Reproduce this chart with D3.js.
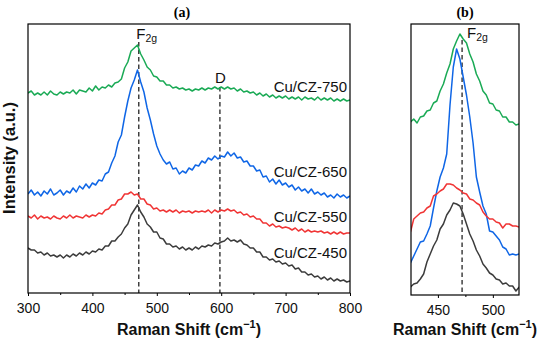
<!DOCTYPE html>
<html><head><meta charset="utf-8">
<script src="https://cdn.jsdelivr.net/npm/d3@7"></script>
<style>body{margin:0;background:#fff}svg{display:block}</style>
</head><body>
<svg id="c" width="550" height="344"></svg>
<script>
// ---------- DATA (panel a: Raman shift, arbitrary intensity) ----------
const shiftA = [300,305,310,315,320,325,330,335,340,345,350,355,360,365,370,375,380,385,390,395,400,405,410,415,420,425,430,435,440,445,450,455,460,465,470,475,480,485,490,495,500,505,510,515,520,525,530,535,540,545,550,555,560,565,570,575,580,585,590,595,600,605,610,615,620,625,630,635,640,645,650,655,660,665,670,675,680,685,690,695,700,705,710,715,720,725,730,735,740,745,750,755,760,765,770,775,780,785,790,795,800];
const cz750A = [200,202,198,200,198,201,198,202,199,198, 201,199,201,200,203,199,203,202,201,205, 202,207,203,206,205,208,206,210,211,214, 225,231,242,245,248,239,233,226,223,217, 216,212,212,208,208,205,206,204,205,203, 204,202,204,203,205,203,205,204,206,204, 206,204,206,204,205,202,204,201,202,200, 201,198,200,197,199,196,198,195,197,195, 197,194,196,194,196,193,196,194,195,193, 196,193,195,193,195,192,194,192,194,192, 193];
const cz650A = [99,103,98,101,97,102,99,104,98,100, 103,98,102,100,105,101,107,104,109,105, 110,108,113,112,119,121,130,137,151,158, 176,192,205,213,223,211,201,185,173,159, 147,139,133,129,131,124,125,119,122,120, 125,123,128,127,132,130,135,133,137,134, 137,136,141,137,140,135,136,131,132,127, 127,122,123,116,117,111,114,109,113,108, 110,106,108,103,106,102,104,100,104,99, 101,98,100,96,98,95,99,96,98,95, 97];
const cz550A = [77,75,78,74,77,75,76,74,77,75, 74,77,75,78,75,77,76,75,78,76, 78,77,80,79,83,84,88,88,93,94, 99,99,101,98,99,94,94,89,88,84, 85,82,83,81,83,81,83,80,82,81, 82,80,82,81,82,81,83,80,83,81, 83,82,84,82,83,80,81,78,79,76, 77,74,74,70,70,67,69,66,67,65, 66,65,63,65,62,64,61,63,61,62, 61,62,60,61,59,61,59,61,59,60, 60];
const cz450A = [45,43,43,40,41,38,40,37,38,36, 38,35,38,36,39,37,40,38,41,39, 42,41,44,43,47,47,52,52,56,59, 65,69,78,83,88,81,76,69,66,61, 61,55,54,49,49,46,47,44,46,43, 45,43,46,44,47,46,48,47,50,49, 51,52,55,52,53,51,53,49,48,45, 45,41,41,36,36,33,34,31,32,29, 30,27,28,24,25,21,21,18,19,16, 17,14,16,13,15,12,14,12,13,11, 12];

// panel b (zoom on the F2g band)
const shiftB = [425,428,431,434,437,440,443,446,449,452,455,458,461,464,467,470,473,476,479,482,485,488,491,494,497,500,503,506,509,512,515,518,521,524];
const cz750B = [173,176,172,178,179,184,185,192,194,204,211,222,231,246,254,261,256,252,241,233,221,214,204,200,192,191,185,184,178,178,173,173,170,171];
const cz650B = [32,39,46,53,54,61,69,87,104,118,127,141,190,228,246,236,218,200,178,152,118,103,89,81,64,63,59,55,48,46,40,41,40,41];
const cz550B = [63,76,79,82,83,87,89,99,101,104,106,111,111,110,107,105,102,101,96,95,92,90,83,79,76,76,73,72,67,71,71,69,69,68];
const cz450B = [8,11,12,16,21,33,41,49,55,66,71,80,85,92,91,89,81,71,61,54,45,39,31,27,22,20,16,15,11,12,9,9,4,8];

const seriesNames = ["Cu/CZ-750","Cu/CZ-650","Cu/CZ-550","Cu/CZ-450"];
const seriesColors = ["#1aaa55","#0f66e6","#f03535","#3c3c3c"];
const ticksA = [300,400,500,600,700,800];
const ticksB = [450,500];
const peakF2g = 472;
const peakD = 598;

// ---------- DRAW ----------
const svg = d3.select("#c");
const font = "Liberation Sans, Arial, sans-serif";

function panel(cfg){
  const x = d3.scaleLinear().domain(cfg.xd).range([cfg.l, cfg.r]);
  const y = d3.scaleLinear().domain(cfg.yd).range([cfg.b, cfg.t]);
  const g = svg.append("g");
  const cid = "clip"+cfg.id;
  svg.append("clipPath").attr("id",cid).append("rect")
    .attr("x",cfg.l).attr("y",cfg.t).attr("width",cfg.r-cfg.l).attr("height",cfg.b-cfg.t);
  cfg.dash.forEach(d=>{
    g.append("line").attr("x1",x(d.x)).attr("x2",x(d.x)).attr("y1",d.y0).attr("y2",cfg.b)
      .attr("stroke","#333").attr("stroke-width",1.4).attr("stroke-dasharray","4.5,3");
  });
  const line = d3.line().x((d,i)=>x(cfg.xs[i])).y(d=>y(d));
  cfg.series.forEach((s,i)=>{
    g.append("path").datum(s).attr("d",line).attr("fill","none")
      .attr("stroke",seriesColors[i]).attr("stroke-width",1.5)
      .attr("stroke-linejoin","round").attr("clip-path",`url(#${cid})`);
  });
  g.append("rect").attr("x",cfg.l).attr("y",cfg.t).attr("width",cfg.r-cfg.l).attr("height",cfg.b-cfg.t)
    .attr("fill","none").attr("stroke","#000").attr("stroke-width",1.2);
  const ax = g.append("g").attr("transform",`translate(0,${cfg.b})`)
    .call(d3.axisBottom(x).tickValues(cfg.ticks).tickSize(3).tickSizeOuter(0).tickFormat(d3.format("d")));
  ax.select(".domain").remove();
  ax.selectAll("line").attr("stroke","#000").attr("stroke-width",1);
  ax.selectAll("text").attr("font-family",font).attr("font-size",14).attr("fill","#111").attr("dy","1.0em");
  g.append("g").attr("transform",`translate(0,${cfg.b})`)
    .call(d3.axisBottom(x).tickValues(cfg.minor).tickSize(2).tickFormat(""))
    .call(a=>{a.select(".domain").remove();a.selectAll("line").attr("stroke","#000");});
  return {x,y,g};
}

const A = panel({id:"a", l:28, r:350, t:24, b:293, xd:[300,800], yd:[0,269], xs:shiftA,
  series:[cz750A,cz650A,cz550A,cz450A], ticks:ticksA, minor:[350,450,550,650,750],
  dash:[{x:peakF2g,y0:42},{x:peakD,y0:87}]});
const B = panel({id:"b", l:411, r:519, t:24, b:295, xd:[425.5,523.8], yd:[0,271], xs:shiftB,
  series:[cz750B,cz650B,cz550B,cz450B], ticks:ticksB, minor:[475],
  dash:[{x:peakF2g,y0:40}]});

// series labels
const labelY = [92,177,222,258];
seriesNames.forEach((n,i)=>{
  svg.append("text").attr("x",347).attr("y",labelY[i]).attr("text-anchor","end")
    .attr("font-family",font).attr("font-size",15).attr("fill","#111").text(n);
});
function f2g(xp, yb){
  const t = svg.append("text").attr("x",xp).attr("y",yb).attr("font-family",font).attr("font-size",15).attr("fill","#111");
  t.append("tspan").text("F");
  t.append("tspan").attr("font-size",10.5).attr("dy",3).text("2g");
}
f2g(A.x(peakF2g)-2.5, 39);
f2g(B.x(peakF2g)+5, 38);
svg.append("text").attr("x",A.x(peakD)+0.5).attr("y",83).attr("text-anchor","middle")
  .attr("font-family",font).attr("font-size",15).attr("fill","#111").text("D");

svg.append("text").attr("x",182).attr("y",17).attr("text-anchor","middle")
  .attr("font-family","Liberation Serif, Times New Roman, serif").attr("font-size",14).attr("font-weight","bold").text("(a)");
svg.append("text").attr("x",465).attr("y",17).attr("text-anchor","middle")
  .attr("font-family","Liberation Serif, Times New Roman, serif").attr("font-size",14).attr("font-weight","bold").text("(b)");

function xTitle(cx){
  const t = svg.append("text").attr("x",cx).attr("y",335).attr("text-anchor","middle")
    .attr("font-family",font).attr("font-size",16).attr("font-weight","bold").attr("fill","#111");
  t.append("tspan").text("Raman Shift (cm");
  t.append("tspan").attr("font-size",11).attr("dy",-7).text("\u22121");
  t.append("tspan").attr("dy",7).text(")");
}
xTitle(189); xTitle(465);
svg.append("text").attr("transform","translate(15,158) rotate(-90)").attr("text-anchor","middle")
  .attr("font-family",font).attr("font-size",16.5).attr("font-weight","bold").attr("fill","#111").text("Intensity (a.u.)");
</script>
</body></html>
